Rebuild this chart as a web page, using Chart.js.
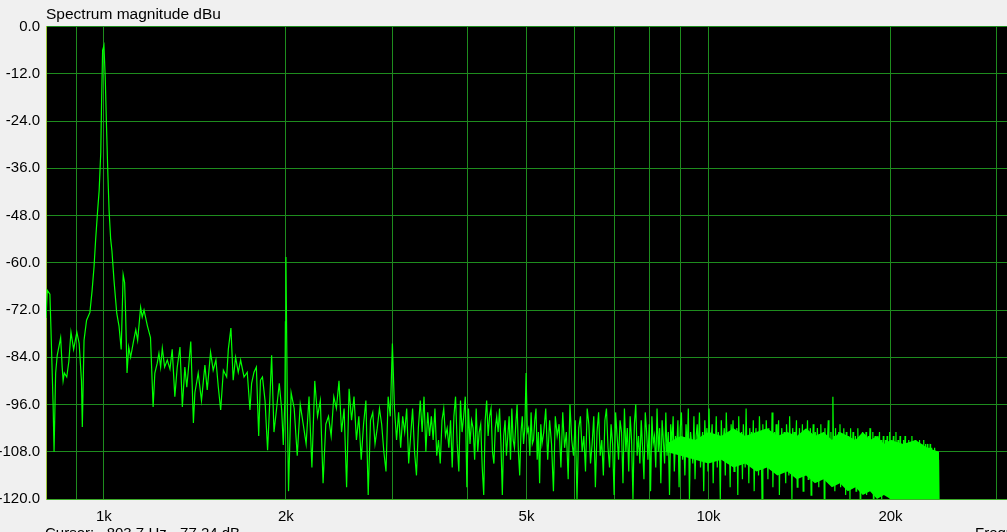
<!DOCTYPE html>
<html>
<head>
<meta charset="utf-8">
<title>Spectrum magnitude dBu</title>
<script src="https://cdn.jsdelivr.net/npm/chart.js@4.4.1/dist/chart.umd.min.js"></script>
<style>
  body { margin: 0; background: #f0f0f0; overflow: hidden; }
  .wrap { position: relative; width: 1007px; height: 532px; overflow: hidden; font-family: "Liberation Sans", Arial, sans-serif; }
  #spec { position: absolute; left: 0; top: 0; }
  .cursor { position: absolute; left: 45px; top: 524px; font-size: 15px; white-space: pre; }
  .freq { position: absolute; left: 975px; top: 524px; font-size: 15px; white-space: nowrap; }
</style>
</head>
<body>
<div class="wrap">
  <canvas id="spec" width="1007" height="532"></canvas>
  <div class="cursor">Cursor:   803.7 Hz, -77.24 dB</div>
  <div class="freq">Frequency Hz</div>
</div>
<script>

// x axis: gridlines and the ones that get a label
let gridFreqs = [900, 1000, 2000, 3000, 4000, 5000, 6000, 7000, 8000, 9000, 10000, 20000, 30000];
let labelFreqs = [1000, 2000, 5000, 10000, 20000];

// low part of the spectrum (up to the 2k harmonic), read point by point
let lowFreqHz = [802, 806, 814, 817, 824, 827, 832, 837, 848, 853, 856, 860, 868, 875, 882, 891, 902, 910, 918, 921,
  927, 936, 948, 956, 963, 969, 976, 982, 988, 991, 995, 1000, 1005, 1010, 1015, 1020, 1026, 1031, 1039, 1050,
  1059, 1068, 1076, 1082, 1086, 1092, 1099, 1107, 1113, 1120, 1129, 1137, 1150, 1157, 1165, 1180, 1194, 1206, 1214, 1225,
  1233, 1241, 1249, 1260, 1273, 1286, 1297, 1310, 1322, 1336, 1348, 1361, 1371, 1379, 1392, 1406, 1414, 1432, 1450, 1469,
  1482, 1501, 1516, 1532, 1546, 1560, 1576, 1596, 1606, 1622, 1636, 1651, 1668, 1683, 1705, 1726, 1744, 1755, 1771, 1787,
  1803, 1815, 1829, 1847, 1865, 1878, 1894, 1911, 1929, 1950, 1968, 1980, 1992, 1996, 2000, 2006, 2012, 2020];
let lowLevelDb = [-74, -67, -68, -76, -96, -108, -88, -83.5, -79, -86.5, -90, -88, -89, -85, -77.6, -82, -77.6, -80.5, -90, -101.7,
  -79.7, -74.6, -72.6, -67, -61, -54, -47, -41.6, -32, -19.5, -6, -4.8, -13, -25.6, -37.3, -47, -54, -57, -64.4, -72.8,
  -76, -82, -63, -65, -72.8, -88, -81.4, -84, -82, -79.7, -77, -79.7, -71.3, -73.8, -72, -76, -79, -96.6, -88, -85.5,
  -83, -86.5, -81.7, -86.5, -84.7, -87, -82, -94, -86.5, -81.4, -96.6, -86.5, -91.6, -87.3, -80, -100.7, -93, -88, -95, -86,
  -92.3, -82.7, -87.3, -84.7, -91.6, -97.4, -87.3, -89, -82, -76.6, -89.8, -84, -87.8, -84.7, -89, -87.8, -97.4, -90.6, -87.8, -86.5,
  -104, -89.8, -89, -95, -107.6, -97.4, -83.5, -103, -97.4, -90.6, -97.4, -106.3, -95, -75, -58.5, -80, -100, -118];

// middle part: bins every 24 Hz from 2040 Hz (3k and 5k spikes in it)
let midStartHz = 2040;
let midStepHz = 24;
let midLevelDb = [
  -93, -97, -109, -96, -101, -106, -94, -112, -90, -99, -95, -116, -101, -99, -104, -94, -97, -90, -103, -97,
  -117, -92, -100, -94, -105, -99, -110, -101, -95, -119, -100, -98, -106, -102, -97, -101, -108, -113, -94, -99,
  -80.5, -97, -105, -98, -107, -99, -103, -97, -111, -104, -97, -108, -114, -102, -95, -103, -94, -108, -98, -104,
  -99, -105, -97, -109, -105, -111, -100, -97, -104, -102, -107, -100, -112, -99, -94, -106, -113, -95, -103, -99,
  -94, -117, -97, -106, -100, -102, -110, -97, -108, -103, -101, -112, -119, -100, -95, -104, -99, -97, -108, -111,
  -102, -99, -103, -97, -106, -119, -104, -100, -109, -104, -99, -110, -97, -105, -107, -101, -96, -108, -114, -103,
  -99, -106, -102, -88, -103, -102, -109, -98, -106, -105, -100, -97, -110, -103, -116, -101, -106];

// high part: bins every 40 Hz from 5340 Hz up to 24060 Hz
let hfStartHz = 5340;
let hfStepHz = 40;
let hfLevelDb = [
  -103, -97, -110, -100, -106, -118, -99, -104, -101, -112, -98, -107, -103, -115, -96, -105, -109, -100, -120, -102,
  -99, -108, -104, -113, -97, -101, -111, -106, -99, -117, -103, -98, -109, -105, -114, -100, -97, -107, -112, -101,
  -106, -119, -98, -104, -110, -100, -103, -116, -97, -108, -102, -113, -99, -105, -120, -101, -96, -109, -104, -111,
  -100, -107, -115, -98, -103, -110, -101, -118, -99, -106, -104, -112, -97, -108, -102, -116, -100, -105, -111, -98,
  -109, -103, -119, -101, -106, -99, -113, -104, -107, -100, -117, -102, -98, -110, -105, -114, -101, -108, -97, -120,
  -103, -106, -111, -99, -115, -104, -101, -109, -98, -112, -106, -103, -118, -100, -107, -102, -113, -97, -110, -105,
  -101, -116, -104, -108, -99, -112, -103, -106, -120, -100, -109, -105, -102, -114, -98, -107, -111, -103, -117, -101,
  -106, -100, -113, -104, -108, -102, -119, -99, -110, -105, -103, -115, -101, -107, -112, -97, -109, -104, -116, -102,
  -108, -103, -111, -100, -118, -105, -102, -110, -106, -114, -99, -107, -104, -120, -101, -109, -103, -112, -100, -106,
  -115, -102, -108, -104, -111, -98, -117, -105, -103, -109, -101, -113, -106, -100, -119, -104, -107, -102, -112, -105,
  -103, -110, -116, -101, -106, -104, -114, -99, -108, -105, -120, -102, -109, -103, -111, -106, -100, -117, -104, -108,
  -102, -113, -105, -110, -101, -118, -104, -107, -103, -112, -106, -100, -115, -105, -109, -102, -119, -104, -108, -101,
  -111, -105, -103, -114, -106, -102, -109, -117, -104, -107, -101, -112, -105, -110, -103, -120, -102, -108, -106, -113,
  -104, -100, -116, -105, -109, -103, -111, -106, -94, -108, -104, -118, -102, -107, -110, -105, -113, -103, -109, -101,
  -117, -104, -108, -106, -112, -102, -110, -105, -119, -103, -107, -114, -104, -109, -106, -120, -102, -111, -105, -108,
  -103, -115, -107, -110, -104, -118, -106, -109, -102, -113, -108, -105, -120, -104, -111, -107, -103, -116, -106, -110,
  -105, -112, -103, -119, -107, -109, -104, -114, -106, -102, -117, -108, -105, -111, -103, -120, -107, -110, -104, -115,
  -106, -109, -118, -104, -111, -107, -103, -116, -108, -105, -120, -106, -110, -104, -113, -107, -119, -105, -109, -112,
  -104, -117, -108, -106, -111, -103, -120, -107, -110, -105, -114, -108, -104, -118, -106, -112, -109, -103, -119, -107,
  -110, -105, -116, -108, -112, -104, -120, -109, -106, -113, -107, -118, -105, -111, -108, -104, -119, -110, -106, -115,
  -107, -112, -105, -120, -109, -106, -114, -108, -117, -104, -111, -107, -119, -106, -113, -110, -105, -118, -108, -112,
  -106, -116, -109, -107, -120, -105, -111, -108, -114, -106, -119, -110, -107, -113, -105, -117, -109, -112, -106, -120,
  -108, -111, -106, -118, -109, -107, -115, -110, -106, -119, -108, -113, -107, -120, -109, -112, -108, -116, -107, -114,
  -110, -108, -119, -109, -113, -108, -117, -110, -120];

// solid core of the noise at the top end (upper and lower edge)
let bandFreqHz = [8500, 9000, 9500, 10000, 10500, 11000, 11500, 12000, 12500, 13000, 13500, 14000, 14500, 15000,
  15500, 16000, 16500, 17000, 17500, 18000, 18500, 19000, 19500, 20000, 21000, 22000, 23000, 24060];
let bandTopDb = [-106, -104, -105, -103, -104, -102, -104, -103, -102, -104, -103, -104, -102, -104,
  -103, -105, -103, -104, -105, -103, -105, -104, -106, -105, -106, -105, -107, -108];
let bandBottomDb = [-108, -109, -110, -111, -110, -112, -111, -113, -112, -114, -113, -115, -114, -116,
  -115, -117, -116, -118, -117, -119, -118, -120, -119, -120, -120, -120, -120, -120];

const green = '#00ff00';
const gridGreen = '#1e8c1e';
const fontFam = '"Liberation Sans", Arial, sans-serif';

let spectrum = lowFreqHz.map((f, i) => ({ x: f, y: lowLevelDb[i] }))
  .concat(midLevelDb.map((db, i) => ({ x: midStartHz + i * midStepHz, y: db })))
  .concat(hfLevelDb.map((db, i) => ({ x: hfStartHz + i * hfStepHz, y: db })));
let bandTop = bandFreqHz.map((f, i) => ({ x: f, y: bandTopDb[i] }));
let bandBottom = bandFreqHz.map((f, i) => ({ x: f, y: bandBottomDb[i] }));

// black plot area
const plotBg = {
  id: 'plotBg',
  beforeDraw(chart) {
    const a = chart.chartArea;
    const c = chart.ctx;
    c.save();
    c.fillStyle = '#000';
    c.fillRect(a.left, a.top, a.right - a.left, a.bottom - a.top);
    c.restore();
  }
};

const ctx = document.getElementById('spec').getContext('2d');
const specChart = new Chart(ctx, {
  type: 'line',
  data: {
    datasets: [
      {
        label: 'Spectrum',
        data: spectrum,
        borderColor: green,
        borderWidth: 1.2,
        pointRadius: 0,
        fill: false,
        tension: 0
      },
      {
        label: 'band top',
        data: bandTop,
        borderColor: 'rgba(0,0,0,0)',
        borderWidth: 0,
        backgroundColor: green,
        pointRadius: 0,
        fill: '+1'
      },
      {
        label: 'band bottom',
        data: bandBottom,
        borderColor: 'rgba(0,0,0,0)',
        borderWidth: 0,
        pointRadius: 0,
        fill: false
      }
    ]
  },
  options: {
    responsive: false,
    animation: false,
    layout: { padding: 0 },
    scales: {
      x: {
        type: 'logarithmic',
        min: 802,
        max: 31170,
        afterBuildTicks: (scale) => {
          scale.ticks = gridFreqs.map(v => ({ value: v }));
        },
        afterFit: (scale) => { scale.height = 33; },
        ticks: {
          autoSkip: false,
          maxRotation: 0,
          padding: 9,
          color: '#000',
          font: { family: fontFam, size: 15 },
          callback: (v) => labelFreqs.includes(v) ? (v / 1000) + 'k' : ''
        },
        grid: { color: gridGreen, drawTicks: false },
        border: { color: '#3caa28' }
      },
      y: {
        min: -120,
        max: 0,
        afterFit: (scale) => { scale.width = 46; },
        ticks: {
          stepSize: 12,
          padding: 6,
          color: '#000',
          font: { family: fontFam, size: 15 },
          callback: (v) => v.toFixed(1)
        },
        grid: { color: gridGreen, drawTicks: false },
        border: { color: '#9cc83c' }
      }
    },
    plugins: {
      legend: { display: false },
      tooltip: { enabled: false },
      title: {
        display: true,
        text: 'Spectrum magnitude dBu',
        align: 'start',
        fullSize: false,
        color: '#000',
        padding: { top: 5, bottom: 3 },
        font: { family: fontFam, size: 15.5, weight: 'normal' }
      }
    }
  },
  plugins: [plotBg]
});
</script>
</body>
</html>
